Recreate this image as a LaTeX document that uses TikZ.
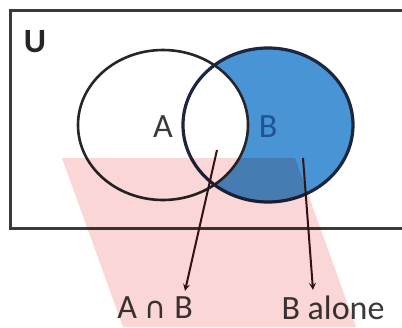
\documentclass[tikz,border=0pt]{standalone}
\usepackage{xcolor}
\usepackage{fontspec}
\setmainfont{Carlito}
\newfontfamily\symfont{DejaVu Sans}
\usepackage{tikz}
\usetikzlibrary{arrows, positioning}

\definecolor{setblue}{RGB}{72,148,212}
\definecolor{setnavy}{RGB}{28,38,62}
\definecolor{labelblue}{RGB}{30,84,150}
\definecolor{labelgray}{RGB}{58,58,58}
\definecolor{shadepink}{RGB}{251,214,214}
\definecolor{pointerdark}{RGB}{48,22,22}

\begin{document}
\begin{tikzpicture}[x=1pt,y=-1pt]
\tikzstyle{universe} = [draw=labelgray, line width=3pt]
\tikzstyle{setA} = [draw=black!85, line width=2.6pt]
\tikzstyle{setB} = [draw=setnavy, line width=3.2pt]
\tikzstyle{setlabel} = [inner sep=0pt, text=labelgray,
    font=\fontsize{34}{38}\selectfont]
\tikzstyle{outlabel} = [inner sep=0pt, text=labelgray,
    font=\fontsize{34}{38}\selectfont]
\tikzstyle{arrow} = [line width=2pt, draw=pointerdark, ->, >=stealth]

\useasboundingbox (0,0) rectangle (402,327);

% --- SETS ---
\fill[white] (10,10) rectangle (404,228);
\fill[setblue] (268,125) ellipse [x radius=85pt, y radius=77pt];
\begin{scope}
  \clip (163,125) ellipse [x radius=85pt, y radius=75pt];
  \fill[white] (268,125) ellipse [x radius=85pt, y radius=77pt];
\end{scope}
\draw[universe] (10,10) rectangle (405,228);
\draw[setA] (163,125) ellipse [x radius=85pt, y radius=75pt];
\draw[setB] (268,125) ellipse [x radius=85pt, y radius=77pt];

\node (labelU) [setlabel, text=black!85,
    font=\fontsize{34}{38}\selectfont\bfseries] at (35,42) {U};
\node (labelA) [setlabel] at (163,127) {A};
\node (labelB) [setlabel, text=labelblue] at (268,127) {B};

% --- OUTSIDE LABELS AND POINTERS ---
\node (inter) [outlabel] at (155,308) {A {\symfont\fontsize{30}{34}\selectfont ∩} B};
\node (alone) [outlabel] at (333,308) {B alone};

\coordinate (interpt) at (217,150);
\coordinate (alonept) at (303,158);

\draw [arrow] (interpt) -- ([xshift=30pt,yshift=6pt]inter.north);
\draw [arrow] (alonept) -- ([xshift=-20pt,yshift=6pt]alone.north);

% --- SHADED STRIP ---
\begin{scope}[blend mode=multiply]
  \fill[shadepink] (62,158) -- (295,158) -- (356,327) -- (123,327) -- cycle;
\end{scope}
\end{tikzpicture}
\end{document}
